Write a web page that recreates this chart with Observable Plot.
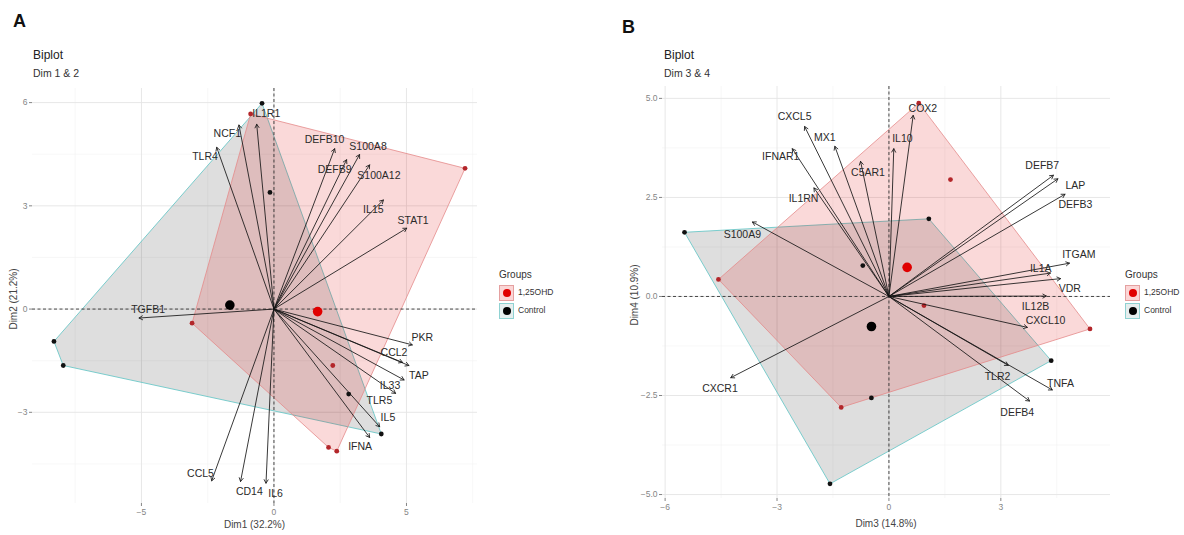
<!DOCTYPE html>
<html><head><meta charset="utf-8">
<script src="https://cdn.jsdelivr.net/npm/d3@7"></script>
<script src="https://cdn.jsdelivr.net/npm/@observablehq/plot@0.6"></script>
<style>
body{margin:0;background:#fff;font-family:"Liberation Sans",Arial,sans-serif;}
#root{position:relative;width:1184px;height:535px;overflow:hidden;background:#fff;}
.abs{position:absolute;white-space:nowrap;line-height:1;}
</style></head><body><div id="root"></div>
<script>
// ---------- shared ----------
const groups = ["1,25OHD", "Control"];

// ---------- Panel A : Dim 1 & 2 ----------
const indA_x = [-0.88, 7.21, -3.09, 2.22, 2.06, 2.37, -0.45, -0.15, -8.30, -7.95, 2.82, 4.05];
const indA_y = [5.67, 4.09, -0.41, -1.64, -4.02, -4.13, 5.98, 3.39, -0.94, -1.64, -2.47, -3.63];
const indA_g = ["1,25OHD","1,25OHD","1,25OHD","1,25OHD","1,25OHD","1,25OHD","Control","Control","Control","Control","Control","Control"];
const varA_names = ["TLR4","NCF1","IL1R1","DEFB10","DEFB9","S100A8","S100A12","IL15","STAT1","TGFB1","PKR","CCL2","TAP","IL33","TLR5","IL5","IFNA","CCL5","CD14","IL6"];
const varA_x = [-2.16,-1.32,-0.65,2.29,2.74,3.23,3.61,4.13,5.01,-5.09,5.22,4.85,5.09,4.91,4.59,3.99,3.61,-2.35,-1.26,-0.30];
const varA_y = [4.70,5.35,5.37,4.66,4.34,4.49,4.19,3.17,2.35,-0.26,-1.04,-1.55,-1.64,-2.06,-2.45,-3.42,-3.73,-4.99,-5.01,-5.06];
const labA_x = [-2.60,-1.76,-0.29,1.91,2.29,3.55,3.96,3.75,5.25,-4.75,5.60,4.53,5.47,4.38,3.98,4.30,3.25,-2.77,-0.93,0.06];
const labA_y = [4.43,5.11,5.67,4.92,4.05,4.72,3.88,2.88,2.57,-0.02,-0.82,-1.28,-1.93,-2.22,-2.66,-3.14,-4.00,-4.77,-5.31,-5.37];
const ticksA_x = [-5, 0, 5];
const ticksA_y = [-3, 0, 3, 6];
const minorA_x = [-7.5, -2.5, 2.5, 7.5];
const minorA_y = [-4.5, -1.5, 1.5, 4.5];

// ---------- Panel B : Dim 3 & 4 ----------
const indB_x = [0.80, 1.65, -4.57, 0.94, 5.39, -1.28, 1.07, -5.48, -0.70, 4.35, -0.47, -1.58];
const indB_y = [4.88, 2.95, 0.43, -0.23, -0.82, -2.80, 1.96, 1.62, 0.78, -1.62, -2.56, -4.73];
const indB_g = ["1,25OHD","1,25OHD","1,25OHD","1,25OHD","1,25OHD","1,25OHD","Control","Control","Control","Control","Control","Control"];
const varB_names = ["CXCL5","MX1","IFNAR1","IL1RN","C5AR1","IL10","COX2","S100A9","DEFB7","LAP","DEFB3","ITGAM","IL1A","VDR","IL12B","CXCL10","CXCR1","TLR2","TNFA","DEFB4"];
const varB_x = [-2.26,-1.45,-2.59,-2.01,-0.76,0.13,0.65,-3.66,4.41,4.53,4.72,4.84,4.33,4.60,4.22,3.71,-4.24,3.20,4.38,3.77];
const varB_y = [4.29,3.79,3.73,2.74,3.41,3.73,4.57,1.88,3.06,2.97,2.58,0.84,0.59,0.45,0.01,-0.78,-2.05,-1.74,-2.36,-2.64];
const labB_x = [-2.53,-1.72,-2.90,-2.29,-0.56,0.36,0.91,-3.93,4.11,5.00,5.00,5.09,4.07,4.85,3.93,4.20,-4.53,2.91,4.60,3.44];
const labB_y = [4.53,4.01,3.52,2.47,3.12,3.98,4.75,1.56,3.31,2.80,2.32,1.06,0.70,0.19,-0.25,-0.62,-2.33,-2.02,-2.19,-2.92];
const ticksB_x = [-6, -3, 0, 3];
const ticksB_y = [-5, -2.5, 0, 2.5, 5];
const minorB_x = [-4.5, -1.5, 1.5, 4.5];
const minorB_y = [-3.75, -1.25, 1.25, 3.75];

// ---------- styles ----------
const FONT = '"Liberation Sans", Arial, sans-serif';
const hullStyle = {
  "1,25OHD": {fill: "#e00000", fillOpacity: 0.15, stroke: "#e58a8a"},
  "Control": {fill: "#000000", fillOpacity: 0.13, stroke: "#5cc3c3"}
};
const dotColor = {"1,25OHD": "#b3262a", "Control": "#111111"};
const meanColor = {"1,25OHD": "#e00000", "Control": "#000000"};
const keyStyle = {
  "1,25OHD": {bg: "#fbd6d6", border: "#e4a0a0"},
  "Control": {bg: "#e6eeee", border: "#8fd2d2"}
};

function panel(cfg) {
  const ind = cfg.ix.map((x, i) => ({x, y: cfg.iy[i], group: cfg.ig[i]}));
  const vars = cfg.names.map((name, i) => ({name, x: cfg.vx[i], y: cfg.vy[i], lx: cfg.lx[i], ly: cfg.ly[i]}));
  const means = groups.map(g => {
    const s = ind.filter(d => d.group === g);
    return {group: g, x: d3.mean(s, d => d.x), y: d3.mean(s, d => d.y)};
  });
  const marks = [
    Plot.ruleX(cfg.minorX, {stroke: "#f1f1f1", strokeWidth: 0.6}),
    Plot.ruleY(cfg.minorY, {stroke: "#f1f1f1", strokeWidth: 0.6}),
    Plot.ruleX(cfg.ticksX, {stroke: "#e4e4e4", strokeWidth: 0.9}),
    Plot.ruleY(cfg.ticksY, {stroke: "#e4e4e4", strokeWidth: 0.9}),
    Plot.axisX({ticks: cfg.ticksX, tickSize: 3, tickPadding: 2, fontSize: 8.5, color: "#858585", label: null, tickFormat: cfg.fmtX}),
    Plot.axisY({ticks: cfg.ticksY, tickSize: 3, tickPadding: 2, fontSize: 8.5, color: "#858585", label: null, tickFormat: cfg.fmtY}),
  ];
  for (const g of ["Control", "1,25OHD"]) {
    marks.push(Plot.hull(ind.filter(d => d.group === g), {x: "x", y: "y", ...hullStyle[g], strokeWidth: 0.8}));
  }
  marks.push(
    Plot.ruleX([0], {stroke: "#333", strokeWidth: 0.9, strokeDasharray: "3,2.5"}),
    Plot.ruleY([0], {stroke: "#333", strokeWidth: 0.9, strokeDasharray: "3,2.5"})
  );
  for (const g of groups) {
    marks.push(Plot.dot(ind.filter(d => d.group === g), {x: "x", y: "y", r: 2.4, fill: dotColor[g], stroke: "none"}));
  }
  marks.push(
    Plot.arrow(vars, {x1: () => 0, y1: () => 0, x2: "x", y2: "y", stroke: "#151515", strokeWidth: 0.85, headLength: 7}),
    Plot.text(vars, {x: "lx", y: "ly", text: "name", fontSize: 10.5, fill: "#2a2a2a", fontFamily: FONT})
  );
  for (const g of groups) {
    marks.push(Plot.dot(means.filter(d => d.group === g), {x: "x", y: "y", r: 4.8, fill: meanColor[g], stroke: "none"}));
  }
  return Plot.plot({
    width: cfg.width, height: cfg.height,
    marginLeft: cfg.ml, marginRight: cfg.mr, marginTop: cfg.mt, marginBottom: cfg.mb,
    x: {domain: cfg.dx}, y: {domain: cfg.dy},
    style: {fontFamily: FONT, fontSize: "8.5px", background: "transparent", overflow: "visible"},
    marks
  });
}

const root = document.getElementById("root");
function place(el, left, top) {
  el.style.position = "absolute"; el.style.left = left + "px"; el.style.top = top + "px";
  root.appendChild(el);
}
function txt(s, left, top, css) {
  const d = document.createElement("div");
  d.className = "abs"; d.textContent = s;
  d.style.left = left + "px"; d.style.top = top + "px";
  Object.assign(d.style, css || {});
  root.appendChild(d);
  return d;
}
function legend(left) {
  txt("Groups", left, 270, {fontSize: "10px", color: "#333"});
  groups.forEach((g, i) => {
    const top = 285 + i * 17.5;
    const box = document.createElement("div");
    Object.assign(box.style, {position: "absolute", left: left + "px", top: top + "px", width: "13px", height: "14px",
      background: keyStyle[g].bg, border: "1px solid " + keyStyle[g].border});
    const dot = document.createElement("div");
    Object.assign(dot.style, {position: "absolute", left: "2.5px", top: "3px", width: "8px", height: "8px",
      borderRadius: "50%", background: meanColor[g]});
    box.appendChild(dot);
    root.appendChild(box);
    txt(g, left + 19, top + 3, {fontSize: "8.5px", color: "#333"});
  });
}

// Panel A
const svgA = panel({
  ix: indA_x, iy: indA_y, ig: indA_g,
  names: varA_names, vx: varA_x, vy: varA_y, lx: labA_x, ly: labA_y,
  ticksX: ticksA_x, ticksY: ticksA_y, minorX: minorA_x, minorY: minorA_y,
  fmtX: d3.format("d"), fmtY: d3.format("d"),
  width: 495, height: 455, ml: 32, mr: 18, mt: 8, mb: 32,
  dx: [-9.11, 7.68], dy: [-5.65, 6.41]
});
place(svgA, 0, 80);
txt("A", 13, 12, {fontSize: "18px", fontWeight: "bold", color: "#111"});
txt("Biplot", 33, 48.5, {fontSize: "12px", color: "#222"});
txt("Dim 1 & 2", 33, 68, {fontSize: "10.5px", color: "#333"});
txt("Dim1 (32.2%)", 254.5, 520, {fontSize: "10px", color: "#444", transform: "translateX(-50%)"});
txt("Dim2 (21.2%)", 14, 299, {fontSize: "10px", color: "#444", transform: "translate(-50%,-50%) rotate(-90deg)"});
legend(499);

// Panel B
const svgB = panel({
  ix: indB_x, iy: indB_y, ig: indB_g,
  names: varB_names, vx: varB_x, vy: varB_y, lx: labB_x, ly: labB_y,
  ticksX: ticksB_x, ticksY: ticksB_y, minorX: minorB_x, minorY: minorB_y,
  fmtX: d3.format("d"), fmtY: d3.format(".1f"),
  width: 500, height: 455, ml: 42, mr: 10, mt: 6, mb: 37,
  dx: [-6.07, 5.94], dy: [-5.10, 5.30]
});
place(svgB, 620, 80);
txt("B", 622, 18, {fontSize: "18px", fontWeight: "bold", color: "#111"});
txt("Biplot", 664, 48.5, {fontSize: "12px", color: "#222"});
txt("Dim 3 & 4", 664, 68, {fontSize: "10.5px", color: "#333"});
txt("Dim3 (14.8%)", 886, 519, {fontSize: "10px", color: "#444", transform: "translateX(-50%)"});
txt("Dim4 (10.9%)", 635, 295, {fontSize: "10px", color: "#444", transform: "translate(-50%,-50%) rotate(-90deg)"});
legend(1125);
</script>
</body></html>
